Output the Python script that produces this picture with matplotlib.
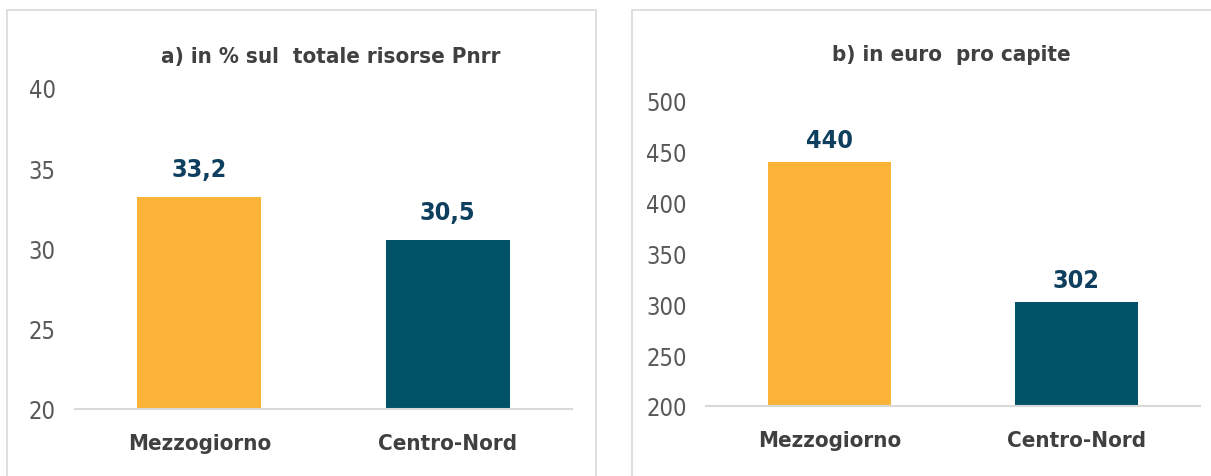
import matplotlib
matplotlib.use("Agg")
import matplotlib.pyplot as plt
from matplotlib.patches import Rectangle

plt.rcParams['font.family'] = ['DejaVu Sans']
plt.rcParams['font.stretch'] = 'condensed'

# Data
categories = ["Mezzogiorno", "Centro-Nord"]
share_pct = [33.2, 30.5]
share_labels = ["33,2", "30,5"]
euro_pc = [440, 302]
euro_labels = ["440", "302"]
colors = ["#FBB437", "#005266"]

W, H = 1211, 477
fig = plt.figure(figsize=(W / 100, H / 100), dpi=100)

# panel borders
border = "#D9D9D9"
fig.patches.append(Rectangle((7 / W, -0.05), 589 / W, 1 - 11 / H + 0.05,
                             transform=fig.transFigure, fill=False, ec=border, lw=1.2))
fig.patches.append(Rectangle((632 / W, -0.05), 600 / W, 1 - 11 / H + 0.05,
                             transform=fig.transFigure, fill=False, ec=border, lw=1.2))


def panel(rect, values, labels, yticks, title, title_x, title_y):
    ax = fig.add_axes(rect)
    x = range(len(categories))
    ax.bar(x, values, width=0.5, color=colors)
    ax.set_xlim(-0.5, 1.5)
    ax.set_ylim(yticks[0], yticks[-1])
    ax.set_yticks(yticks)
    ax.set_xticks(list(x))
    ax.set_xticklabels(categories, fontsize=16, fontweight="bold", color="#404040")
    ax.tick_params(axis="x", length=0, pad=17)
    ax.tick_params(axis="y", length=0, pad=14, labelsize=17, labelcolor="#595959")
    for s in ["top", "right", "left"]:
        ax.spines[s].set_visible(False)
    ax.spines["bottom"].set_color("#D9D9D9")
    ax.spines["bottom"].set_linewidth(1.5)
    step = yticks[1] - yticks[0]
    for xi, v, lab in zip(x, values, labels):
        ax.text(xi, v + step * 0.2, lab, ha="center", va="bottom",
                fontsize=18, fontweight="bold", color="#0E3F5E")
    fig.text(title_x, title_y, title, ha="center", va="center",
             fontsize=16, fontweight="bold", color="#404040")
    return ax


# left panel: 20..40, baseline y=410, top y=89, x 75..572
panel([75 / W, 1 - 410 / H, 497 / W, 321 / H], share_pct, share_labels,
      [20, 25, 30, 35, 40], "a) in % sul  totale risorse Pnrr", 331 / W, 1 - 57 / H)

# right panel: 200..500, baseline y=407, top y=102, x 706..1200
panel([706 / W, 1 - 407 / H, 494 / W, 305 / H], euro_pc, euro_labels,
      [200, 250, 300, 350, 400, 450, 500], "b) in euro  pro capite", 951 / W, 1 - 55 / H)

fig.savefig("out.png", dpi=100)
